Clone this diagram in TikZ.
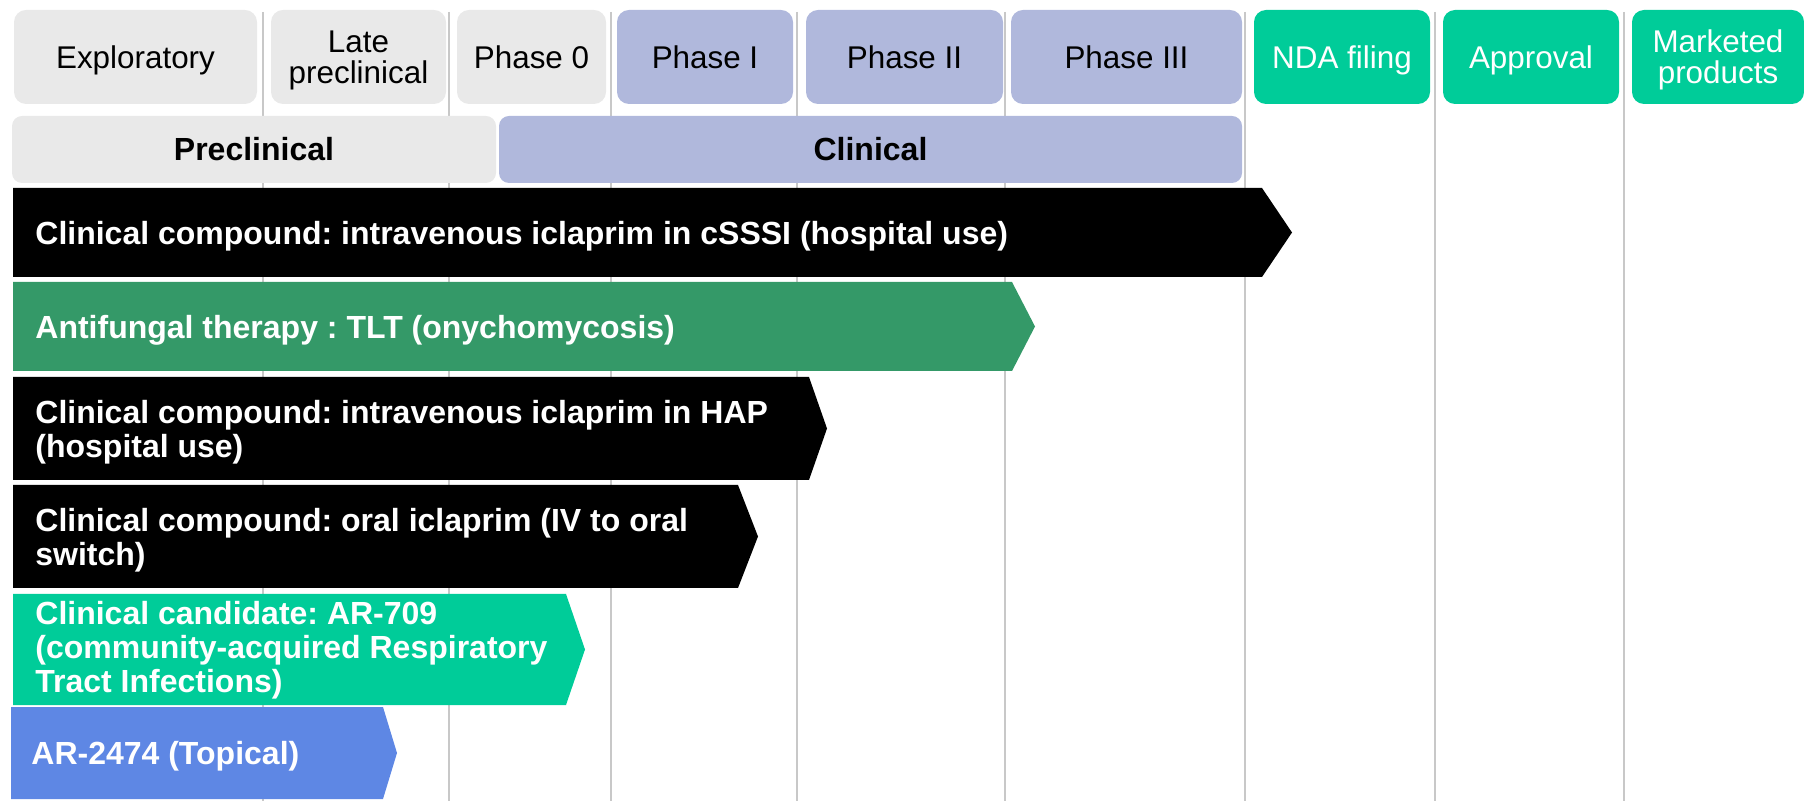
\documentclass[tikz,border=0pt]{standalone}
\usepackage{fontspec}
\setmainfont{Liberation Sans}
\usepackage{tikz}
\usetikzlibrary{positioning,calc}
\usepackage{xcolor}
\definecolor{stagegrey}{RGB}{233,233,233}
\definecolor{clinblue}{RGB}{176,184,220}
\definecolor{regteal}{RGB}{0,204,153}
\definecolor{tltgreen}{RGB}{52,153,104}
\definecolor{topblue}{RGB}{94,135,228}
\definecolor{gridgrey}{RGB}{200,200,200}
\frenchspacing

\begin{document}
\begin{tikzpicture}[
    x=0.5pt, y=-0.5pt,
    phasebox/.style={rectangle, rounded corners=6pt, inner sep=0pt,
        minimum height=47pt, align=center, text depth=0pt,
        font=\fontsize{15.7}{15.5}\selectfont},
    stagebar/.style={rectangle, rounded corners=5pt, inner sep=0pt,
        minimum height=33.5pt, font=\fontsize{16}{17}\selectfont\bfseries},
    bartext/.style={anchor=west, inner sep=0pt, align=left, text=white,
        text depth=0pt, font=\fontsize{16}{17}\selectfont\bfseries},
    gridline/.style={draw=gridgrey, line width=1pt}
]
\useasboundingbox (0,0) rectangle (1804,801);

% phase separators
\foreach \gx in {263,449,611,797,1005,1245,1435,1624}
    \draw[gridline] (\gx,12) -- (\gx,801);

% phase headers
\node[phasebox, fill=stagegrey, minimum width=121.5pt] (explor) at (135.5,57) {Exploratory};
\node[phasebox, fill=stagegrey, minimum width=87.5pt] (latepre) at (358.5,57) {Late\\preclinical};
\node[phasebox, fill=stagegrey, minimum width=74.5pt] (phzero) at (531.5,57) {Phase 0};
\node[phasebox, fill=clinblue, minimum width=88pt] (phone) at (705,57) {Phase I};
\node[phasebox, fill=clinblue, minimum width=98.5pt] (phtwo) at (904.5,57) {Phase II};
\node[phasebox, fill=clinblue, minimum width=115.5pt] (phthree) at (1126.5,57) {Phase III};
\node[phasebox, fill=regteal, text=white, minimum width=88pt] (nda) at (1342,57) {NDA filing};
\node[phasebox, fill=regteal, text=white, minimum width=88pt] (approv) at (1531,57) {Approval};
\node[phasebox, fill=regteal, text=white, minimum width=86pt] (market) at (1718,57) {Marketed\\products};

% stage bars
\node[stagebar, fill=stagegrey, minimum width=242pt] (precl) at (254,149.5) {Preclinical};
\node[stagebar, fill=clinblue, minimum width=371.5pt] (clin) at (870.5,149.5) {Clinical};

% pipeline arrows
\fill[black] (13,188) -- (1262,188) -- (1292,232.5) -- (1262,277) -- (13,277) -- cycle;
\node[bartext] (cssi) at (35,232.5) {Clinical compound: intravenous iclaprim in cSSSI (hospital use)};

\fill[tltgreen] (13,282) -- (1012,282) -- (1035,326.5) -- (1012,371) -- (13,371) -- cycle;
\node[bartext] (tlt) at (35,326.5) {Antifungal therapy : TLT (onychomycosis)};

\fill[black] (13,377) -- (809,377) -- (827,428.5) -- (809,480) -- (13,480) -- cycle;
\node[bartext] (hap) at (35,428.5) {Clinical compound: intravenous iclaprim in HAP\\(hospital use)};

\fill[black] (13,485) -- (738,485) -- (758,536.5) -- (738,588) -- (13,588) -- cycle;
\node[bartext] (oral) at (35,536.5) {Clinical compound: oral iclaprim (IV to oral\\switch)};

\fill[regteal] (13,594) -- (566,594) -- (585,649.5) -- (566,705) -- (13,705) -- cycle;
\node[bartext] (ar709) at (35,647) {Clinical candidate: AR-709\\(community-acquired Respiratory\\Tract Infections)};

\fill[topblue] (11,707) -- (383,707) -- (397,753) -- (383,799) -- (11,799) -- cycle;
\node[bartext] (ar2474) at (31,753) {AR-2474 (Topical)};
\end{tikzpicture}
\end{document}
